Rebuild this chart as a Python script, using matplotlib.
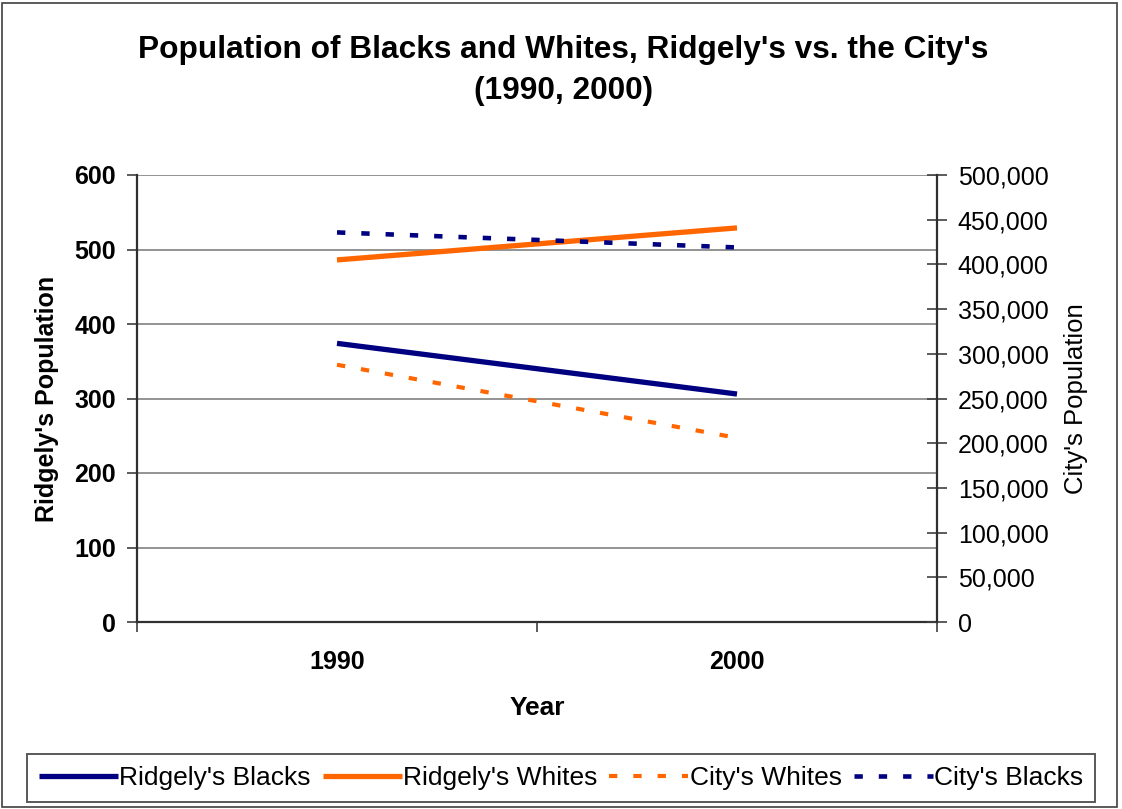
import matplotlib
matplotlib.use("Agg")
import matplotlib.pyplot as plt
from matplotlib.patches import Rectangle
from matplotlib.ticker import FuncFormatter, MultipleLocator

plt.rcParams['font.family'] = ['Liberation Sans', 'DejaVu Sans']
plt.rcParams['lines.scale_dashes'] = False

years = ["1990", "2000"]
ridgely_blacks = [374, 306]
ridgely_whites = [486, 529]
city_whites = [287753, 205982]
city_blacks = [435768, 418951]

NAVY = "#000080"
ORANGE = "#FF6600"

fig = plt.figure(figsize=(11.22, 8.09), dpi=100)
ax = fig.add_axes([137/1122, 1 - 622/809, 800/1122, 447/809])
ax2 = ax.twinx()

x = list(range(len(years)))

l1, = ax.plot(x, ridgely_blacks, color=NAVY, lw=3.8, solid_capstyle='butt', label="Ridgely's Blacks", zorder=3)
l2, = ax.plot(x, ridgely_whites, color=ORANGE, lw=3.8, solid_capstyle='butt', label="Ridgely's Whites", zorder=3)
l3, = ax2.plot(x, city_whites, color=ORANGE, lw=3.0, dashes=(6, 11.5), dash_capstyle='butt', label="City's Whites")
l4, = ax2.plot(x, city_blacks, color=NAVY, lw=3.3, dashes=(6, 11.5), dash_capstyle='butt', label="City's Blacks")

# primary axis
ax.set_xlim(-0.5, 1.5)
ax.set_ylim(0, 600)
ax.yaxis.set_major_locator(MultipleLocator(100))
ax.grid(axis='y', color='#808080', lw=1.2)
ax.set_axisbelow(True)
ax.set_xticks([-0.5, 0.5, 1.5])
ax.set_xticklabels([])
ax.set_xticks(x, minor=True)
ax.set_xticklabels(years, minor=True)
ax.tick_params(axis='x', which='major', direction='out', length=7, width=1.2, color='#404040')
ax.tick_params(axis='x', which='minor', length=0, pad=20, labelsize=18)
for t in ax.get_xticklabels(minor=True):
    t.set_fontweight('bold')
ax.tick_params(axis='y', direction='out', length=7, width=1.2, color='#404040', labelsize=18, pad=8)
for t in ax.get_yticklabels():
    t.set_fontweight('bold')

for s in ('top', 'right'):
    ax.spines[s].set_visible(False)
for s in ('left', 'bottom'):
    ax.spines[s].set_color('#303030')
    ax.spines[s].set_linewidth(1.6)

ax.set_xlabel("Year", fontsize=19, fontweight='bold', labelpad=16)
ax.set_ylabel("Ridgely's Population", fontsize=18, fontweight='bold', labelpad=11)

# secondary axis
ax2.set_ylim(0, 500000)
ax2.yaxis.set_major_locator(MultipleLocator(50000))
ax2.yaxis.set_major_formatter(FuncFormatter(lambda v, p: f"{int(v):,}"))
ax2.tick_params(axis='y', direction='inout', length=14, width=1.2, color='#404040', labelsize=18, pad=8)
for s in ('top', 'left', 'bottom'):
    ax2.spines[s].set_visible(False)
ax2.spines['right'].set_color('#303030')
ax2.spines['right'].set_linewidth(1.6)
ax2.set_ylabel("City's Population", fontsize=18.5, labelpad=11)

fig.suptitle("Population of Blacks and Whites, Ridgely's vs. the City's\n(1990, 2000)",
             x=0.502, y=0.957, fontsize=22.8, fontweight='bold', linespacing=1.5, va='top')

handles = [l1, l2, l3, l4]
leg = fig.legend(handles, [h.get_label() for h in handles], loc='center',
                 bbox_to_anchor=(561/1122, 1 - 778/809), ncol=4, fontsize=19,
                 frameon=True, fancybox=False, handlelength=3.0, handletextpad=0.05,
                 columnspacing=0.45, borderpad=0.45)
leg.get_frame().set_edgecolor('#303030')
leg.get_frame().set_linewidth(1.4)

fig.patches.append(Rectangle((2/1122, 2/809), 1115/1122, 804/809, transform=fig.transFigure,
                             fill=False, edgecolor='#404040', lw=1.2))

fig.savefig("out.png", dpi=100)
